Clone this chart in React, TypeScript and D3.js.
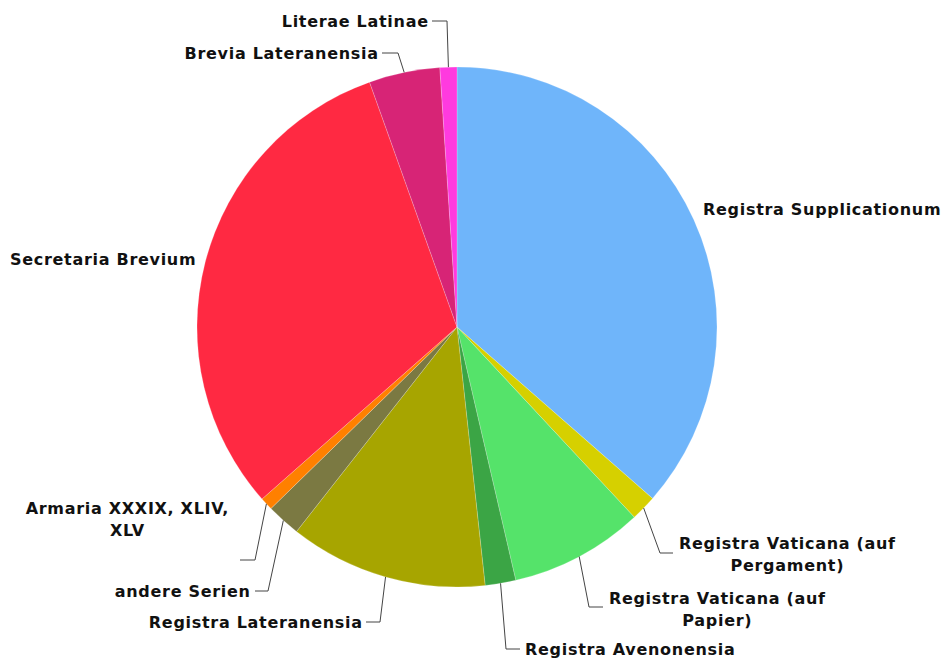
import React from "react";
import * as d3 from "d3";

const categories = [
  "Registra Supplicationum",
  "Registra Vaticana (auf Pergament)",
  "Registra Vaticana (auf Papier)",
  "Registra Avenonensia",
  "Registra Lateranensia",
  "andere Serien",
  "Armaria XXXIX, XLIV, XLV",
  "Secretaria Brevium",
  "Brevia Lateranensia",
  "Literae Latinae",
];
const values = [36.4, 1.6, 8.3, 1.9, 12.3, 2.1, 0.8, 31.0, 4.4, 1.05];
const colors = [
  "#6fb5fa",
  "#d6d000",
  "#55e36a",
  "#3ba545",
  "#a7a500",
  "#7b7942",
  "#ff8000",
  "#ff2942",
  "#d72476",
  "#ff3adf",
];

type LabelLayout = {
  lines: string[];
  anchor: "start" | "middle" | "end";
  x: number;
  y: number;
  elbow?: [number, number];
  end?: [number, number];
};
const labelLayout: LabelLayout[] = [
  { lines: ["Registra Supplicationum"], anchor: "start", x: 703, y: 209 },
  { lines: ["Registra Vaticana (auf", "Pergament)"], anchor: "middle", x: 787, y: 543, elbow: [660, 553], end: [673, 553] },
  { lines: ["Registra Vaticana (auf", "Papier)"], anchor: "middle", x: 717, y: 598, elbow: [589, 607], end: [603, 607] },
  { lines: ["Registra Avenonensia"], anchor: "start", x: 525, y: 649, elbow: [506, 649], end: [520, 649] },
  { lines: ["Registra Lateranensia"], anchor: "end", x: 362, y: 622, elbow: [380, 622], end: [366, 622] },
  { lines: ["andere Serien"], anchor: "end", x: 250, y: 591, elbow: [268, 591], end: [255, 591] },
  { lines: ["Armaria XXXIX, XLIV,", "XLV"], anchor: "middle", x: 127, y: 508, elbow: [255, 560], end: [240, 560] },
  { lines: ["Secretaria Brevium"], anchor: "start", x: 10, y: 259 },
  { lines: ["Brevia Lateranensia"], anchor: "end", x: 378, y: 53, elbow: [398, 53], end: [382, 53] },
  { lines: ["Literae Latinae"], anchor: "end", x: 428, y: 21, elbow: [447, 21], end: [432, 21] },
];

const W = 943;
const H = 660;
const cx = 457;
const cy = 327;
const R = 260;
const lineH = 22;
const LS = 0.7;

export default function App() {
  const pie = d3.pie<number>().sort(null).value((d) => d);
  const arcs = pie(values);
  const arcGen = d3.arc<d3.PieArcDatum<number>>().innerRadius(0).outerRadius(R);

  return (
    <svg
      width={W}
      height={H}
      style={{ position: "absolute", left: 0, top: 0, background: "#fff" }}
      fontFamily="'DejaVu Sans', Verdana, sans-serif"
      fontWeight="bold"
      fontSize={16}
      letterSpacing={LS}
    >
      <g transform={`translate(${cx},${cy})`}>
        {arcs.map((a, i) => (
          <path key={i} d={arcGen(a) || ""} fill={colors[i]} stroke="#ffffff" strokeOpacity={0.4} strokeWidth={0.5} />
        ))}
      </g>
      {arcs.map((a, i) => {
        const L = labelLayout[i];
        const mid = (a.startAngle + a.endAngle) / 2;
        const sx = cx + R * Math.sin(mid);
        const sy = cy - R * Math.cos(mid);
        const shift = L.anchor === "end" ? LS : L.anchor === "middle" ? LS / 2 : 0;
        return (
          <g key={i}>
            {L.elbow && L.end && (
              <polyline
                points={`${sx},${sy} ${L.elbow[0]},${L.elbow[1]} ${L.end[0]},${L.end[1]}`}
                fill="none"
                stroke="#444"
                strokeWidth={1}
              />
            )}
            <text textAnchor={L.anchor} fill="#111">
              {L.lines.map((ln, j) => (
                <tspan key={j} x={L.x + shift} y={L.y + j * lineH} dy="0.35em">
                  {categories[i] && ln}
                </tspan>
              ))}
            </text>
          </g>
        );
      })}
    </svg>
  );
}
